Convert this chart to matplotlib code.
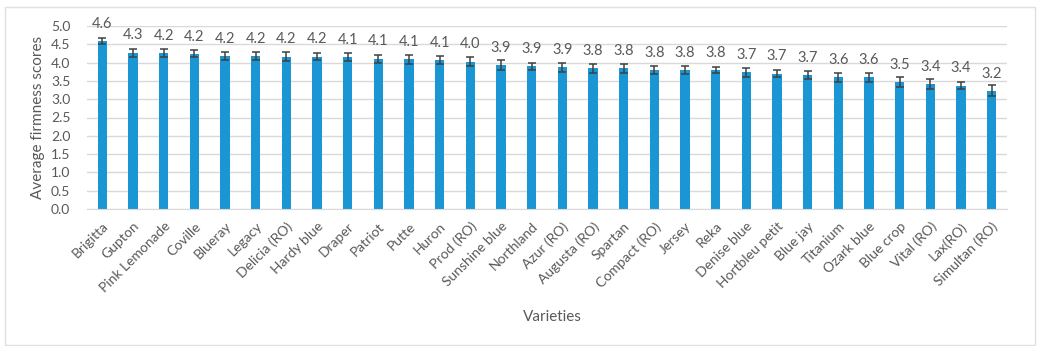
import matplotlib.pyplot as plt
from matplotlib.patches import Rectangle
import numpy as np

plt.rcParams['font.family'] = ['Lato', 'DejaVu Sans']

varieties = ["Brigitta", "Gupton", "Pink Lemonade", "Coville", "Blueray", "Legacy",
             "Delicia (RO)", "Hardy blue", "Draper", "Patriot", "Putte", "Huron",
             "Prod (RO)", "Sunshine blue", "Northland", "Azur (RO)", "Augusta (RO)",
             "Spartan", "Compact (RO)", "Jersey", "Reka", "Denise blue",
             "Hortbleu petit", "Blue jay", "Titanium", "Ozark blue", "Blue crop",
             "Vital (RO)", "Lax(RO)", "Simultan (RO)"]
scores = [4.59, 4.27, 4.25, 4.24, 4.18, 4.18, 4.16, 4.16, 4.15, 4.11, 4.09, 4.07,
          4.03, 3.93, 3.90, 3.87, 3.84, 3.84, 3.80, 3.80, 3.80, 3.73, 3.70, 3.66,
          3.60, 3.60, 3.46, 3.41, 3.37, 3.23]
errors = [0.07, 0.11, 0.11, 0.10, 0.11, 0.10, 0.12, 0.10, 0.11, 0.11, 0.12, 0.11,
          0.11, 0.14, 0.09, 0.13, 0.12, 0.12, 0.12, 0.12, 0.09, 0.13, 0.10, 0.12,
          0.12, 0.12, 0.14, 0.13, 0.09, 0.15]
labels = ["4.6", "4.3", "4.2", "4.2", "4.2", "4.2", "4.2", "4.2", "4.1", "4.1", "4.1",
          "4.1", "4.0", "3.9", "3.9", "3.9", "3.8", "3.8", "3.8", "3.8", "3.8", "3.7",
          "3.7", "3.7", "3.6", "3.6", "3.5", "3.4", "3.4", "3.2"]

txt = "#595959"
fig = plt.figure(figsize=(10.37, 3.46), dpi=100)
ax = fig.add_axes([87 / 1037, (346 - 209) / 346, 920 / 1037, 183 / 346])

x = np.arange(len(varieties))
ax.bar(x, scores, width=0.31, color="#1a96d4", zorder=2)
ax.errorbar(x, scores, yerr=errors, fmt="none", ecolor="#404040", elinewidth=1.1,
            capsize=3, capthick=1.1, zorder=3)
for xi, s, lab in zip(x, scores, labels):
    ax.text(xi, s + 0.28, lab, ha="center", va="bottom", fontsize=10.5, color=txt)

ax.set_xlim(-0.5, len(varieties) - 0.5)
ax.set_ylim(0, 5)
ax.set_yticks(np.arange(0, 5.01, 0.5))
ax.set_yticklabels([f"{v:.1f}" for v in np.arange(0, 5.01, 0.5)])
ax.yaxis.grid(True, color="#d9d9d9", linewidth=1, zorder=0)
ax.tick_params(axis="both", length=0, colors=txt, labelsize=10)
ax.tick_params(axis="y", pad=12)
ax.tick_params(axis="x", pad=8)
ax.set_xticks(x)
ax.set_xticklabels(varieties, rotation=45, ha="right", rotation_mode="anchor")
for sp in ["top", "right", "left"]:
    ax.spines[sp].set_visible(False)
ax.spines["bottom"].set_color("#d9d9d9")

ax.set_ylabel("Average firmness scores", fontsize=11, color=txt, labelpad=4)
fig.text(552 / 1037, 1 - 317 / 346, "Varieties", ha="center", va="center",
         fontsize=11, color=txt)

fig.patches.append(Rectangle((5 / 1037, 1 / 346), 1030 / 1037, 338 / 346,
                             transform=fig.transFigure, fill=False,
                             edgecolor="#e0e0e0", linewidth=1))

fig.savefig("out.png", dpi=100)
